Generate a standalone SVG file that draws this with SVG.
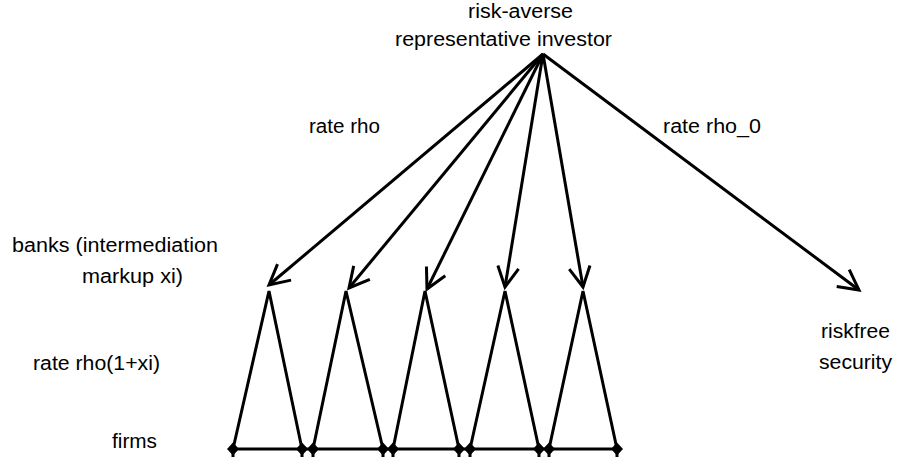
<svg xmlns="http://www.w3.org/2000/svg" width="897" height="463" viewBox="0 0 897 463">
<style>
text{font-family:"Liberation Sans",Arial,sans-serif;font-size:19.5px;fill:#000}
.ln{stroke:#000;stroke-width:3;fill:none}
</style>
<defs>
<marker id="arr" markerUnits="userSpaceOnUse" markerWidth="30" markerHeight="30" viewBox="-25 -15 30 30" refX="0" refY="0" orient="auto">
<path d="M-20,-10.5 L0,0 L-20,10.5" fill="none" stroke="#000" stroke-width="3"/>
</marker>
<g id="d"><path d="M0,-6.5 L6,0 L0,6.5 L-6,0 Z"/><rect x="-1.5" y="0" width="3" height="8"/></g>
</defs>
<rect width="897" height="463" fill="#fff"/>
<g id="investor">
<text x="468" y="18" textLength="105" lengthAdjust="spacingAndGlyphs">risk-averse</text>
<text x="395" y="46" textLength="217" lengthAdjust="spacingAndGlyphs">representative investor</text>
</g>
<g id="riskfree">
<text x="821" y="338" textLength="69" lengthAdjust="spacingAndGlyphs">riskfree</text>
<text x="819" y="369" textLength="73" lengthAdjust="spacingAndGlyphs">security</text>
</g>
<g id="labels">
<text x="309" y="133" textLength="71" lengthAdjust="spacingAndGlyphs">rate rho</text>
<text x="663" y="133" textLength="98" lengthAdjust="spacingAndGlyphs">rate rho_0</text>
<text x="12" y="252" textLength="206" lengthAdjust="spacingAndGlyphs">banks (intermediation</text>
<text x="82" y="283" textLength="101" lengthAdjust="spacingAndGlyphs">markup xi)</text>
<text x="33" y="370" textLength="127" lengthAdjust="spacingAndGlyphs">rate rho(1+xi)</text>
<text x="112" y="448" textLength="45" lengthAdjust="spacingAndGlyphs">firms</text>
</g>
<g id="bank1"><path class="ln" d="M233,449 L269,291 L302,449"/></g>
<g id="bank2"><path class="ln" d="M313,449 L346,291 L383,449"/></g>
<g id="bank3"><path class="ln" d="M393,449 L425,291 L459,449"/></g>
<g id="bank4"><path class="ln" d="M470,449 L505,291 L539,449"/></g>
<g id="bank5"><path class="ln" d="M549,449 L583,291 L617,449"/></g>
<g id="firms">
<line class="ln" x1="233" y1="449" x2="617" y2="449"/>
<use href="#d" x="233" y="449"/><use href="#d" x="302" y="449"/>
<use href="#d" x="313" y="449"/><use href="#d" x="383" y="449"/>
<use href="#d" x="393" y="449"/><use href="#d" x="459" y="449"/>
<use href="#d" x="470" y="449"/><use href="#d" x="539" y="449"/>
<use href="#d" x="549" y="449"/><use href="#d" x="617" y="449"/>
</g>
<g id="connectors">
<line class="ln" x1="543" y1="54" x2="269" y2="285" marker-end="url(#arr)"/>
<line class="ln" x1="543" y1="54" x2="349" y2="288" marker-end="url(#arr)"/>
<line class="ln" x1="543" y1="54" x2="427" y2="289" marker-end="url(#arr)"/>
<line class="ln" x1="543" y1="54" x2="505" y2="287" marker-end="url(#arr)"/>
<line class="ln" x1="543" y1="54" x2="583" y2="287" marker-end="url(#arr)"/>
<line class="ln" x1="543" y1="54" x2="859" y2="290" marker-end="url(#arr)"/>
</g>
</svg>
